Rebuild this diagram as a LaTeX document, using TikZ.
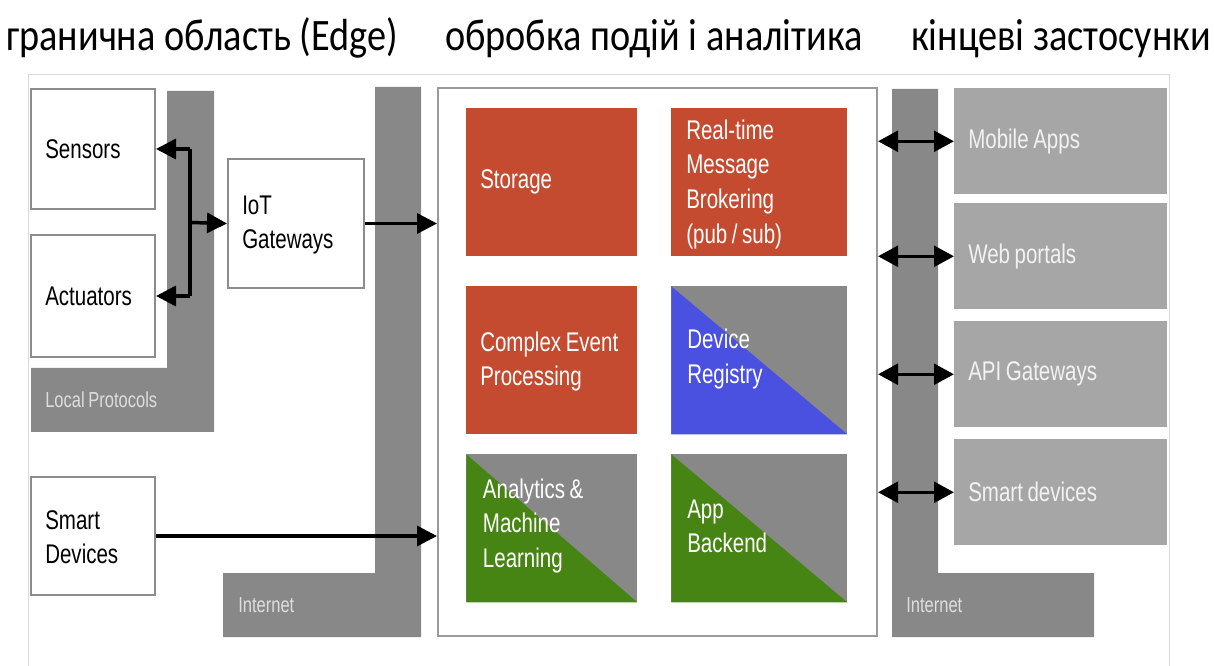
\documentclass[tikz,border=0pt]{standalone}
\usepackage{fontspec}
\setmainfont{Liberation Sans}
\newfontfamily\titlefont[FakeStretch=0.85]{Carlito}
\newfontfamily\narrowfont[FakeStretch=0.76,WordSpace=0.8]{Liberation Sans}
\usetikzlibrary{arrows.meta}
\definecolor{redbox}{HTML}{C44B30}
\definecolor{bluebox}{HTML}{4A50E0}
\definecolor{greenbox}{HTML}{468513}
\definecolor{darkgray}{HTML}{888888}
\definecolor{appgray}{HTML}{A6A6A6}
\definecolor{boxgray}{HTML}{8C8C8C}
\definecolor{maingray}{HTML}{9A9A9A}
\definecolor{framegray}{HTML}{DADADA}
\definecolor{labelgray}{HTML}{DEDEDE}
\tikzset{
  bigtext/.style={font=\narrowfont\fontsize{20.25}{25.9}\selectfont},
  smalltext/.style={font=\narrowfont\fontsize{16.3}{19}\selectfont},
  wbox/.style={draw=boxgray, line width=1.5pt, fill=white, anchor=north west, inner sep=0pt},
  cbox/.style={anchor=north west, inner sep=0pt, minimum height=111pt},
  appbox/.style={fill=appgray, anchor=north west, inner sep=0pt,
    minimum width=159.75pt, minimum height=79.5pt},
  halfbox/.style={cbox, fill=darkgray, path picture={
    \fill[#1] (path picture bounding box.north west) -- (path picture bounding box.south west)
      -- (path picture bounding box.south east) -- cycle;}},
  blabel/.style={bigtext, anchor=west, align=left, inner sep=0pt, text=black},
  clabel/.style={bigtext, anchor=west, align=left, inner sep=0pt, text=white},
  alabel/.style={bigtext, anchor=west, align=left, inner sep=0pt, text=white!95!black},
  barlabel/.style={smalltext, text=labelgray, anchor=west, inner sep=0pt},
  tip/.style={},
  arr/.style={line width=2.6pt, -{Triangle[length=15pt,width=15pt]}},
  darr/.style={line width=2.6pt, {Triangle[length=15pt,width=15.5pt]}-{Triangle[length=15pt,width=15.5pt]}},
  title/.style={font=\titlefont\fontsize{33.75}{36}\selectfont, anchor=base}
}
\begin{document}
\begin{tikzpicture}[x=0.75pt,y=-0.75pt]
\useasboundingbox (0,0) rectangle (1214,666);
\fill[white] (0,0) rectangle (1214,666);
% titles
\node[title] (t1) at (202,51) {гранична область (Edge)};
\node[title] (t2) at (654,51) {обробка подій і аналітика};
\node[title] (t3) at (1061,51) {кінцеві застосунки};
% frame
\draw[framegray, line width=0.75pt] (28,666) -- (28,75) -- (1169,75) -- (1169,666);
% gray bars
\fill[darkgray] (167,91) -- (214,91) -- (214,432) -- (31,432) -- (31,368) -- (167,368) -- cycle;
\fill[darkgray] (375,87) -- (421,87) -- (421,637) -- (223,637) -- (223,573) -- (375,573) -- cycle;
\fill[darkgray] (892,89) -- (938,89) -- (938,573) -- (1094,573) -- (1094,637) -- (892,637) -- cycle;
\node[barlabel] (lp) at (45,400) {Local Protocols};
\node[barlabel] (inet1) at (238,605) {Internet};
\node[barlabel] (inet2) at (906,605) {Internet};
% edge boxes
\node[wbox, minimum width=93pt, minimum height=90pt] (sensors) at (30,88) {};
\node[wbox, minimum width=93pt, minimum height=91.5pt] (actuators) at (30,234) {};
\node[wbox, minimum width=102pt, minimum height=96.75pt] (iot) at (227,158) {};
\node[wbox, minimum width=93pt, minimum height=88.5pt] (smart) at (30,476) {};
\node[blabel] (sensorsT) at ([xshift=11.25pt]sensors.west) {Sensors};
\node[blabel] (actuatorsT) at ([xshift=11.25pt]actuators.west) {Actuators};
\node[blabel] (iotT) at ([xshift=11.25pt,yshift=-1pt]iot.west) {IoT\\Gateways};
\node[blabel] (smartT) at ([xshift=11.25pt,yshift=-1pt]smart.west) {Smart\\Devices};
% main box
\node[draw=maingray, line width=1.5pt, fill=white, anchor=north west, minimum width=329.25pt,
  minimum height=411pt, inner sep=0pt] (main) at (437,87) {};
\node[cbox, fill=redbox, minimum width=128.25pt] (storage) at (466,108) {};
\node[cbox, fill=redbox, minimum width=132pt] (broker) at (671,108) {};
\node[cbox, fill=redbox, minimum width=128.25pt] (cep) at (466,286) {};
\node[halfbox=bluebox, minimum width=132pt] (registry) at (671,286) {};
\node[halfbox=greenbox, minimum width=128.25pt] (analytics) at (466,454) {};
\node[halfbox=greenbox, minimum width=132pt] (backend) at (671,454) {};
\node[clabel] (storageT) at ([xshift=10.5pt]storage.west) {Storage};
\node[clabel] (brokerT) at ([xshift=11.25pt,yshift=-1.5pt]broker.west) {Real-time\\Message\\Brokering\\(pub / sub)};
\node[clabel] (cepT) at ([xshift=10.5pt,yshift=-1pt]cep.west) {Complex Event\\Processing};
\node[clabel] (registryT) at ([xshift=12pt,yshift=1pt]registry.west) {Device\\Registry};
\node[clabel] (analyticsT) at ([xshift=12.5pt,yshift=2pt]analytics.west) {Analytics \&\\Machine\\Learning};
\node[clabel] (backendT) at ([xshift=12pt,yshift=1.5pt]backend.west) {App\\Backend};
% app boxes
\node[appbox] (mobile) at (954,88) {};
\node[appbox] (web) at (954,203) {};
\node[appbox] (api) at (954,321) {};
\node[appbox] (sdev) at (954,439) {};
\node[alabel] (mobileT) at ([xshift=10.5pt]mobile.west) {Mobile Apps};
\node[alabel] (webT) at ([xshift=10.5pt]web.west) {Web portals};
\node[alabel] (apiT) at ([xshift=10.5pt]api.west) {API Gateways};
\node[alabel] (sdevT) at ([xshift=10.5pt]sdev.west) {Smart devices};
% connectors
\coordinate (bus) at (190,222.5);
\draw[line width=2.6pt] (sensors.east -| bus) -- (actuators.east -| bus);
\draw[arr] (sensors.east -| bus) -- (sensors.east);
\draw[arr] (actuators.east -| bus) -- (actuators.east);
\draw[arr] (bus) -- (iot.west);
\draw[arr] (iot.east) -- (iot.east -| main.west);
\draw[arr] (smart.east) -- (smart.east -| main.west);
\draw[darr] (main.east |- mobile.west) -- (mobile.west);
\draw[darr] (main.east |- web.west) -- (web.west);
\draw[darr] (main.east |- api.west) -- (api.west);
\draw[darr] (main.east |- sdev.west) -- (sdev.west);
\end{tikzpicture}
\end{document}
